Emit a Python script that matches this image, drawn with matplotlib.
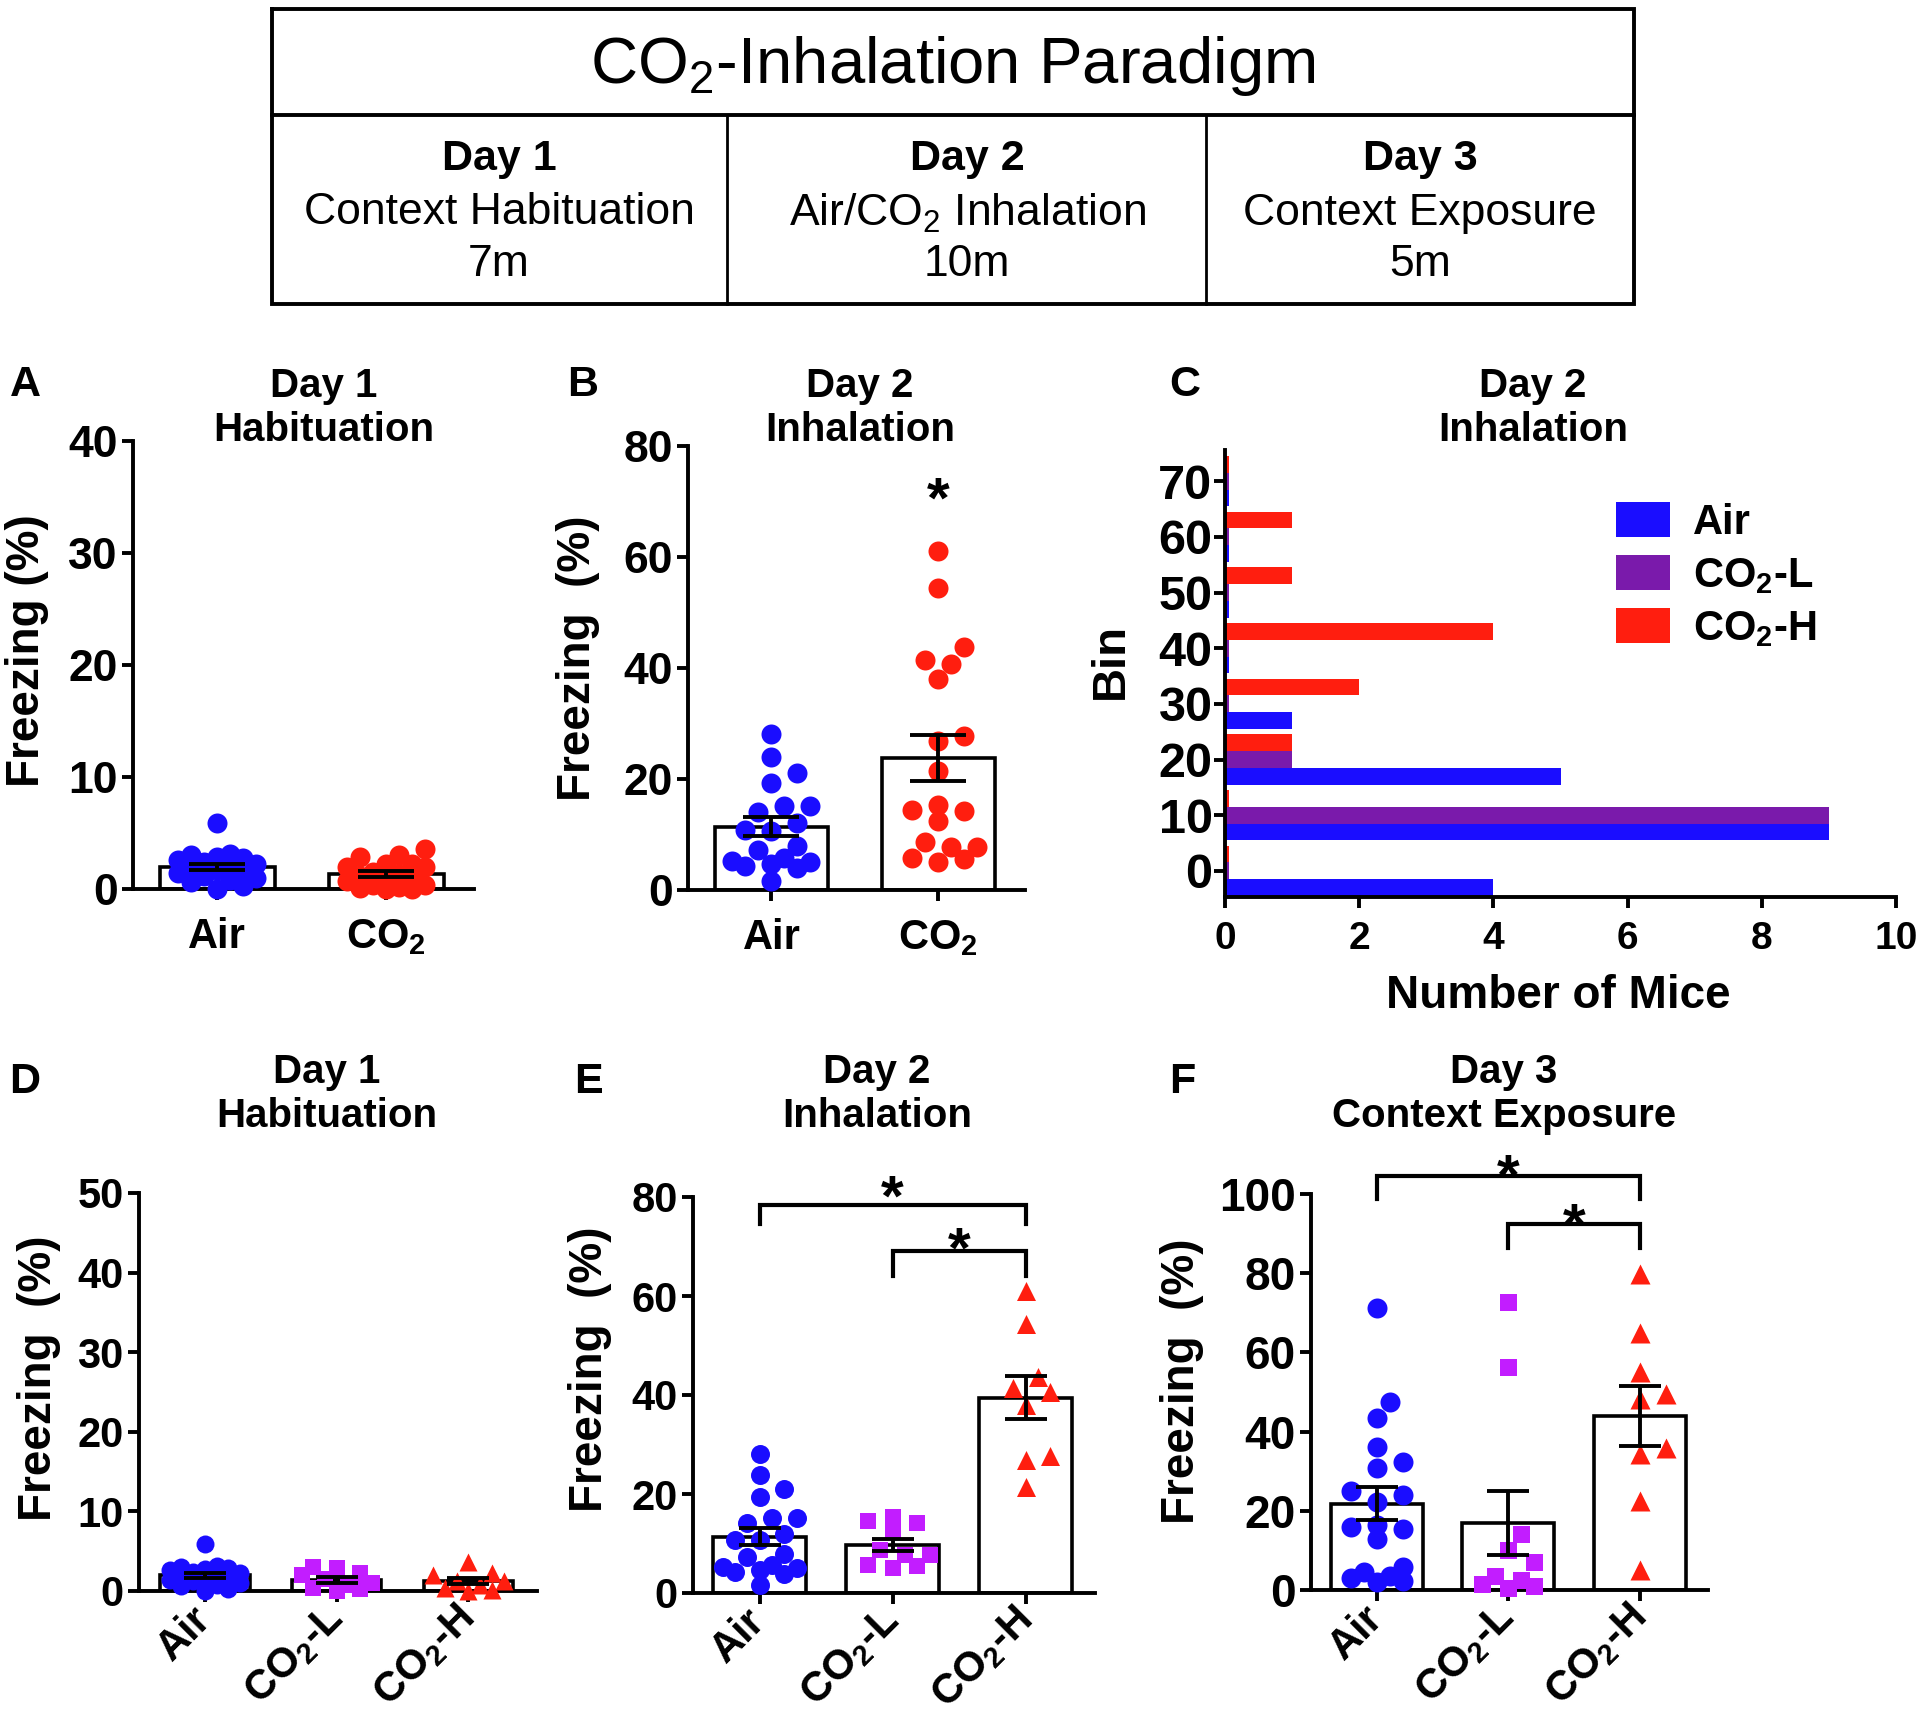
import numpy as np
import matplotlib.pyplot as plt

plt.rcParams['font.family'] = ['Liberation Sans', 'DejaVu Sans']
plt.rcParams['font.weight'] = 'bold'
plt.rcParams['axes.labelweight'] = 'bold'
plt.rcParams['mathtext.default'] = 'regular'

# freezing (%) per mouse
day1_air = [5.9, 3.1, 3.0, 2.9, 2.8, 2.6, 2.4, 2.2, 2.0, 1.9, 1.7, 1.6, 1.4, 1.2, 1.0, 0.8, 0.6, 0.3, 0.0]
day1_co2L = [3.0, 2.9, 2.2, 2.0, 1.5, 1.0, 0.7, 0.4, 0.2, 0.0]
day1_co2H = [3.6, 2.2, 2.0, 1.3, 1.2, 0.8, 0.4, 0.1, 0.0]

day2_air = [28.1, 23.9, 21.0, 19.3, 15.2, 14.1, 15.1, 12.0, 10.8, 10.7, 7.9, 7.2, 5.7, 5.2, 4.3, 3.9, 4.7, 5.1, 1.7]
day2_co2L = [15.3, 14.2, 14.5, 12.4, 7.7, 8.7, 7.7, 5.7, 5.1, 5.5]
day2_co2H = [61.0, 54.4, 43.7, 41.4, 40.7, 38.0, 27.7, 26.8, 21.5]

day3_air = [71.1, 47.5, 43.5, 36.1, 32.4, 30.7, 25.1, 24.0, 22.2, 16.4, 15.3, 15.8, 12.8, 5.9, 4.6, 3.6, 3.0, 2.3, 1.9]
day3_co2L = [72.8, 56.4, 14.2, 10.2, 7.0, 3.5, 2.5, 1.5, 1.0, 0.5]
day3_co2H = [79.8, 64.9, 55.0, 49.6, 48.3, 35.8, 34.3, 22.5, 5.1]

# histogram of day 2 freezing (panel C)
bins = [0, 10, 20, 30, 40, 50, 60, 70]
hist_air = [4, 9, 5, 1, 0, 0, 0, 0]
hist_co2L = [0, 9, 1, 0, 0, 0, 0, 0]
hist_co2H = [0, 0, 1, 2, 4, 1, 1, 0]

labels2 = ['Air', 'CO$_2$']
labels3 = ['Air', 'CO$_2$-L', 'CO$_2$-H']

# significance brackets: (left group, right group, bracket y, leg bottom, star centre)
sig_B = [(1, 73.2)]
sig_E = [(0, 2, 78.4, 74.5, 83.0), (1, 2, 69.1, 64.0, 72.5)]
sig_F = [(0, 2, 104.6, 98.7, 108.4), (1, 2, 92.5, 86.4, 96.0)]

blue = '#1a0dff'
red = '#ff1e0f'
magenta = '#c21dff'
purple = '#7a1aab'

W, H = 1920, 1732
fig = plt.figure(figsize=(W / 100, H / 100), dpi=100, facecolor='white')


def box(l, t, r, b):
    return [l / W, 1 - b / H, (r - l) / W, (b - t) / H]


def style(ax, ysize, xsize, xpad):
    for s in ['top', 'right']:
        ax.spines[s].set_visible(False)
    for s in ['left', 'bottom']:
        ax.spines[s].set_linewidth(2.8)
    ax.tick_params(width=2.8, length=8)
    ax.tick_params(axis='y', labelsize=ysize, pad=3)
    ax.tick_params(axis='x', labelsize=xsize, pad=xpad)


def swarm(ax, xc, vals, diam, max_frac=0.28):
    # simple beeswarm in pixel space, lowest values first
    vals = np.asarray(vals, float)
    p0 = ax.transData.transform((0, 0))
    p1 = ax.transData.transform((1, 1))
    sx, sy = p1[0] - p0[0], p1[1] - p0[1]
    step = 0.65 * diam
    cands = [0.0]
    k = 1
    while k * step <= max_frac * sx:
        cands += [k * step, -k * step]
        k += 1
    placed = []
    xs = np.zeros(len(vals))
    for i in np.argsort(vals, kind='stable'):
        y = vals[i] * sy
        best, bestc, best_d = None, 0.0, -1.0
        for c in cands:
            d = min((np.hypot(c - px, y - py) for px, py in placed), default=np.inf)
            if d >= diam * 0.98:
                best = c
                break
            if d > best_d:
                best_d, bestc = d, c
        if best is None:
            best = bestc
        placed.append((best, y))
        xs[i] = xc + best / sx
    return xs


def dot_panel(ax, groups, labels, colors, markers, width, ylim, yticks, capsize, diam):
    x = np.arange(len(groups))
    means = [np.mean(g) for g in groups]
    sems = [np.std(g, ddof=1) / np.sqrt(len(g)) for g in groups]
    ax.set_xlim(-0.5, len(groups) - 0.48)
    ax.set_ylim(*ylim)
    ax.set_yticks(yticks)
    ax.set_xticks(x)
    ax.set_xticklabels(labels)
    ax.bar(x, means, width=width, color='white', edgecolor='black', linewidth=2.6, zorder=1)
    for xi, vals, c, m in zip(x, groups, colors, markers):
        d = diam * (0.85 if m == 's' else 1.0)
        xs = swarm(ax, xi, vals, diam)
        ax.scatter(xs, vals, s=(d * 0.72) ** 2, color=c, marker=m, linewidths=0,
                   zorder=3, clip_on=False)
    ax.errorbar(x, means, yerr=sems, fmt='none', ecolor='black', elinewidth=2.8,
                capsize=capsize, capthick=2.8, zorder=4)


def star(ax, x, y):
    ax.annotate('*', xy=(x, y), xytext=(0, -24), textcoords='offset points',
                ha='center', va='baseline', fontsize=42, annotation_clip=False)


def brackets(ax, sigs):
    for a, b, yb, yl, ys in sigs:
        ax.plot([a, a, b, b], [yl, yb, yb, yl], color='black', lw=3, clip_on=False,
                solid_joinstyle='miter', zorder=5)
        star(ax, (a + b) / 2, ys)


# ---- panel A
axA = fig.add_axes(box(133, 441, 474, 889))
dot_panel(axA, [day1_air, day1_co2L + day1_co2H], labels2, [blue, red], ['o', 'o'],
          0.68, (0, 40), [0, 10, 20, 30, 40], 20, 20)
style(axA, 32, 30, 12)
axA.set_ylabel('Freezing (%)', fontsize=33, va='center')
axA.yaxis.set_label_coords(-0.311, 0.531)

# ---- panel B
axB = fig.add_axes(box(688, 446, 1025, 890))
dot_panel(axB, [day2_air, day2_co2L + day2_co2H], labels2, [blue, red], ['o', 'o'],
          0.68, (0, 80), [0, 20, 40, 60, 80], 20, 20)
style(axB, 32, 30, 12)
axB.set_ylabel('Freezing  (%)', fontsize=33, va='center')
axB.yaxis.set_label_coords(-0.326, 0.523)
for xi, ys in sig_B:
    star(axB, xi, ys)

# ---- panel C
axC = fig.add_axes(box(1225, 450, 1896, 897))
b = np.array(bins)
axC.barh(b - 3, np.maximum(hist_air, 0.06), height=3, color=blue, label='Air')
axC.barh(b, np.maximum(hist_co2L, 0.06), height=3, color=purple, label='CO$_2$-L')
axC.barh(b + 3, np.maximum(hist_co2H, 0.06), height=3, color=red, label='CO$_2$-H')
axC.set_xlim(0, 10)
axC.set_ylim(-4.7, 75.6)
axC.set_xticks([0, 2, 4, 6, 8, 10])
axC.set_yticks(bins)
style(axC, 35, 28, 9)
axC.tick_params(axis='y', pad=1)
axC.set_ylabel('Bin', fontsize=34, va='center')
axC.yaxis.set_label_coords(-0.170, 0.528)
axC.set_xlabel('Number of Mice', fontsize=33, va='center')
axC.xaxis.set_label_coords(0.496, -0.221)
axC.legend(loc='upper left', bbox_to_anchor=(0.583, 0.884), frameon=False, fontsize=30,
           handlelength=1.3, handleheight=0.91, handletextpad=0.55, labelspacing=0.3,
           borderpad=0, borderaxespad=0)

# ---- panel D
axD = fig.add_axes(box(139, 1193, 537, 1591))
dot_panel(axD, [day1_air, day1_co2L, day1_co2H], labels3, [blue, magenta, red],
          ['o', 's', '^'], 0.68, (0, 50), [0, 10, 20, 30, 40, 50], 15, 18)
style(axD, 30, 30, 8)
axD.set_ylabel('Freezing  (%)', fontsize=33, va='center')
axD.yaxis.set_label_coords(-0.251, 0.535)

# ---- panel E
axE = fig.add_axes(box(693, 1197, 1095, 1593))
dot_panel(axE, [day2_air, day2_co2L, day2_co2H], labels3, [blue, magenta, red],
          ['o', 's', '^'], 0.70, (0, 80), [0, 20, 40, 60, 80], 15, 19)
style(axE, 30, 30, 8)
axE.set_ylabel('Freezing  (%)', fontsize=33, va='center')
axE.yaxis.set_label_coords(-0.256, 0.566)
brackets(axE, sig_E)

# ---- panel F
axF = fig.add_axes(box(1311, 1194, 1708, 1590))
dot_panel(axF, [day3_air, day3_co2L, day3_co2H], labels3, [blue, magenta, red],
          ['o', 's', '^'], 0.70, (0, 100), [0, 20, 40, 60, 80, 100], 15, 20)
style(axF, 33, 30, 8)
axF.set_ylabel('Freezing  (%)', fontsize=33, va='center')
axF.yaxis.set_label_coords(-0.325, 0.528)
brackets(axF, sig_F)

for ax in [axD, axE, axF]:
    plt.setp(ax.get_xticklabels(), rotation=45, ha='right', va='center', rotation_mode='anchor')

# ---- overlay for header box, titles and panel letters (pixel coordinates)
ov = fig.add_axes([0, 0, 1, 1], zorder=10)
ov.set_xlim(0, W)
ov.set_ylim(H, 0)
ov.axis('off')

ov.plot([272, 1634, 1634, 272, 272], [9, 9, 304, 304, 9], color='black', lw=2.8,
        solid_joinstyle='miter')
ov.plot([272, 1634], [115, 115], color='black', lw=2.8)
for xd in [727, 1206]:
    ov.plot([xd, xd], [115, 304], color='black', lw=2)

ov.text(953, 66, 'CO$_2$-Inhalation Paradigm', ha='center', va='center', fontsize=47,
        fontweight='normal')
cols = [499, 967, 1420]
days = ['Day 1', 'Day 2', 'Day 3']
phases = ['Context Habituation', 'Air/CO$_2$ Inhalation', 'Context Exposure']
durations = ['7m', '10m', '5m']
for cx, d, p, t in zip(cols, days, phases, durations):
    ov.text(cx, 159, d, ha='center', va='center', fontsize=31)
    ov.text(cx, 213, p, ha='center', va='center', fontsize=32, fontweight='normal')
    ov.text(cx, 264, t, ha='center', va='center', fontsize=32, fontweight='normal')

titles = [(324, 408, 'Day 1\nHabituation'), (860, 408, 'Day 2\nInhalation'),
          (1533, 408, 'Day 2\nInhalation'), (327, 1094, 'Day 1\nHabituation'),
          (877, 1094, 'Day 2\nInhalation'), (1504, 1094, 'Day 3\nContext Exposure')]
for tx, ty, s in titles:
    ov.text(tx, ty, s, ha='center', va='center', fontsize=29, linespacing=1.2)

letters = [(25, 385, 'A'), (583, 385, 'B'), (1185, 385, 'C'),
           (25, 1082, 'D'), (588, 1082, 'E'), (1182, 1082, 'F')]
for lx, ly, s in letters:
    ov.text(lx, ly, s, ha='center', va='center', fontsize=31)

fig.savefig('out.png', dpi=100)
